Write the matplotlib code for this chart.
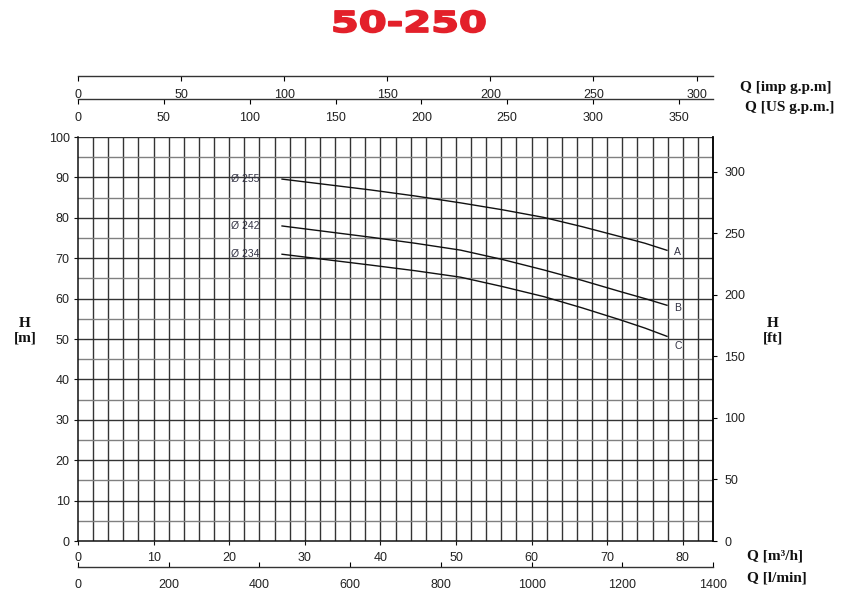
"""
Pump curve chart 50-250 — head vs flow for three impeller diameters
Outputs: out.png
"""

import matplotlib
matplotlib.use("Agg")
import matplotlib.pyplot as plt
from matplotlib.ticker import MultipleLocator
from matplotlib.textpath import TextPath
from matplotlib.patches import PathPatch
from matplotlib.font_manager import FontProperties
from matplotlib.transforms import Affine2D

# ── Data ─────────────────────────────────────────────────────────────────────
Q_PTS = [26.9, 38.7, 44.6, 50.6, 56.1, 61.6, 66.7, 71.8, 75.0, 78.0]
H_A   = [89.6, 86.9, 85.4, 83.7, 82.0, 80.1, 77.8, 75.3, 73.7, 71.9]
H_B   = [78.0, 75.2, 73.7, 72.0, 69.7, 67.1, 64.5, 61.7, 60.0, 58.3]
H_C   = [71.0, 68.3, 66.9, 65.3, 63.0, 60.5, 57.7, 54.7, 52.7, 50.6]

DIAMETERS   = ["Ø 255", "Ø 242", "Ø 234"]
CURVE_NAMES = ["A", "B", "C"]
TITLE       = "50-250"

Q_MAX   = 84.0            # m3/h at right edge
H_MAX   = 100.0           # m
IMP_GPM = 219.969 / 60    # imp g.p.m per m3/h
US_GPM  = 264.172 / 60    # US g.p.m per m3/h
L_MIN   = 1000 / 60       # l/min per m3/h
FT      = 1 / 0.3048

# ── Style ────────────────────────────────────────────────────────────────────
SANS  = ["Liberation Sans", "DejaVu Sans"]
SERIF = ["Liberation Serif", "DejaVu Serif"]
TXT   = "#222222"
GRID  = "#333333"
plt.rcParams["font.family"] = SANS

W, H = 842, 596
fig = plt.figure(figsize=(W / 100, H / 100), dpi=100)

L, R = 78 / W, 713 / W
B, T = 1 - 541 / H, 1 - 137 / H
ax = fig.add_axes([L, B, R - L, T - B])

ax.set_xlim(0, Q_MAX)
ax.set_ylim(0, H_MAX)
ax.xaxis.set_major_locator(MultipleLocator(10))
ax.yaxis.set_major_locator(MultipleLocator(10))

# grid: vertical every 2 m3/h, horizontal every 5 m
for q in range(2, 84, 2):
    ax.axvline(q, color=GRID, lw=1.0, zorder=1)
for h in range(5, 101, 5):
    ax.axhline(h, color=GRID if h % 10 == 0 else "#808080", lw=1.0, zorder=1)

for s in ax.spines.values():
    s.set_linewidth(1.1)
    s.set_color("#111111")
ax.spines["top"].set_visible(False)

ax.tick_params(axis="both", direction="out", length=3, width=0.8,
               labelsize=9, colors="#111111", labelcolor=TXT, pad=3)
ax.tick_params(axis="x", pad=5)

# curves
for h in (H_A, H_B, H_C):
    ax.plot(Q_PTS, h, color="#111111", lw=1.0, zorder=3, solid_capstyle="butt")

for lab, h in zip(DIAMETERS, [H_A[0], H_B[0], H_C[0]]):
    ax.text(20.2, h, lab, fontsize=7.5, color="#333344", va="center", ha="left", zorder=4)
for lab, h, dy in zip(CURVE_NAMES, [H_A[-1], H_B[-1], H_C[-1]], [-0.3, -0.6, -2.3]):
    ax.text(78.9, h + dy, lab, fontsize=7.5, color="#333344", va="center", ha="left", zorder=4)

# right axis in ft
axr = ax.twinx()
axr.set_ylim(0, H_MAX * FT)
axr.yaxis.set_major_locator(MultipleLocator(50))
axr.tick_params(axis="y", direction="out", length=3, width=0.8,
                labelsize=9, labelcolor=TXT, pad=5)
for s in axr.spines.values():
    s.set_visible(False)
axr.spines["right"].set_visible(True)
axr.spines["right"].set_linewidth(1.1)


# ── Secondary flow scales (top and bottom) ──────────────────────────────────
def flow_scale(y_px, factor, step, direction):
    a = fig.add_axes([L, 1 - y_px / H, R - L, 1e-4])
    a.set_xlim(0, Q_MAX * factor)
    a.xaxis.set_major_locator(MultipleLocator(step))
    a.set_yticks([])
    for k in ("top", "left", "right"):
        a.spines[k].set_visible(False)
    a.spines["bottom"].set_linewidth(1.0)
    a.spines["bottom"].set_color("#333333")
    a.patch.set_visible(False)
    a.tick_params(axis="x", direction=direction, length=3.5, width=0.8,
                  labelsize=9, labelcolor=TXT, pad=6 if direction == "out" else 9)
    return a

flow_scale(76, IMP_GPM, 50, "out")
flow_scale(99, US_GPM, 50, "out")
flow_scale(567, L_MIN, 200, "in")

# ── Labels ───────────────────────────────────────────────────────────────────
lab_kw = dict(family=SERIF, fontsize=11, fontweight="bold", color="#111111")
fig.text(740 / W, 1 - 88 / H, "Q [imp g.p.m]", va="center", ha="left", **lab_kw)
fig.text(745 / W, 1 - 108 / H, "Q [US g.p.m.]", va="center", ha="left", **lab_kw)
fig.text(747 / W, 1 - 556 / H, "Q [m³/h]", va="center", ha="left", **lab_kw)
fig.text(747 / W, 1 - 578 / H, "Q [l/min]", va="center", ha="left", **lab_kw)
fig.text(25 / W, 1 - 331 / H, "H\n[m]", va="center", ha="center",
         linespacing=1.1, **lab_kw)
fig.text(773 / W, 1 - 331 / H, "H\n[ft]", va="center", ha="center",
         linespacing=1.1, **lab_kw)

# title: bold glyphs stretched and stroked to the heavy wide look of the original
tp = TextPath((0, 0), TITLE, size=1,
              prop=FontProperties(family="DejaVu Sans", weight="bold"))
ext = tp.get_extents()
x0, x1, y_top, y_bot = 334, 485, 10.6, 32.4
tr = (Affine2D().translate(-ext.x0, -ext.y0)
      .scale((x1 - x0) / ext.width, (y_bot - y_top) / ext.height)
      .translate(x0, H - y_bot))
fig.add_artist(PathPatch(tp, transform=tr, facecolor="#e3202a",
                         edgecolor="#e3202a", lw=1.3, joinstyle="round"))

fig.savefig("out.png", dpi=100)
